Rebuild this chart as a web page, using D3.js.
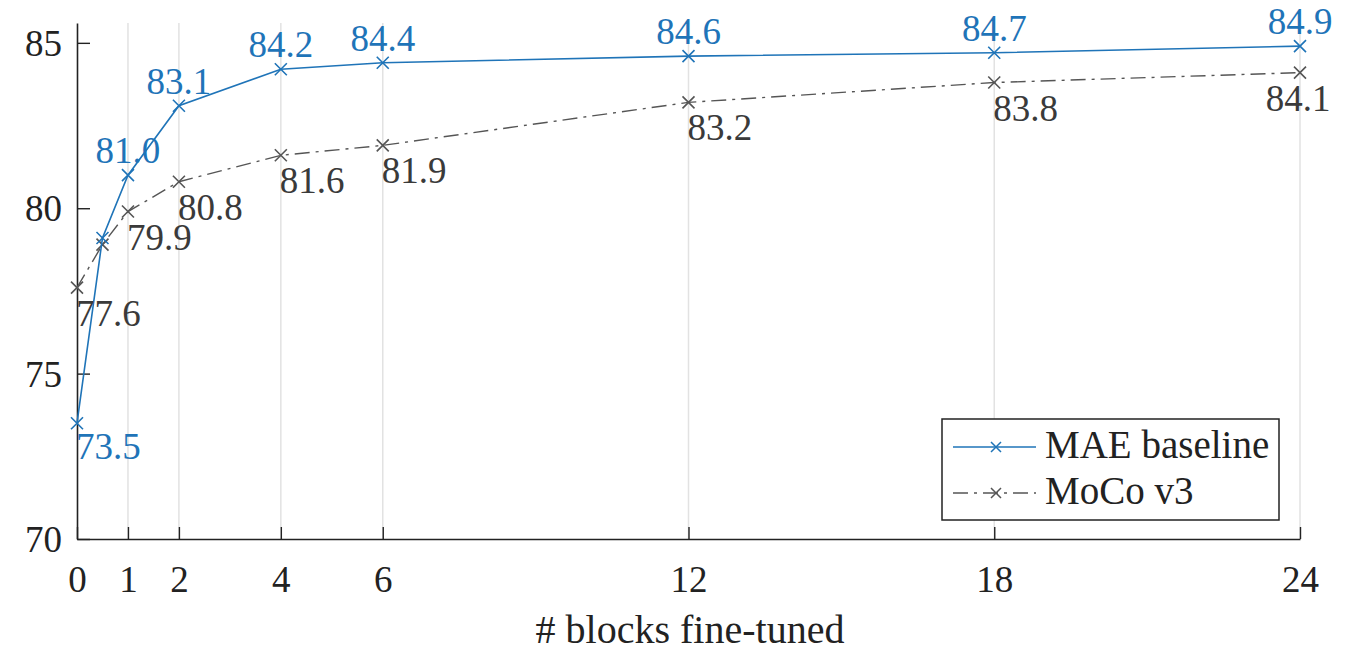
<!DOCTYPE html>
<html>
<head>
<meta charset="utf-8">
<script src="https://cdn.jsdelivr.net/npm/d3@7"></script>
<style>
body { margin: 0; background: #fff; }
svg text { font-family: "Liberation Serif", "Times New Roman", Times, serif !important; }
</style>
</head>
<body>
<script>
// data
var blocks = [0, 0.5, 1, 2, 4, 6, 12, 18, 24];
var maeVals = [73.5, 79.1, 81.0, 83.1, 84.2, 84.4, 84.6, 84.7, 84.9];
var mocoVals = [77.6, 78.9, 79.9, 80.8, 81.6, 81.9, 83.2, 83.8, 84.1];
var xTicks = [0, 1, 2, 4, 6, 12, 18, 24];
var yTicks = [70, 75, 80, 85];
var seriesNames = ['MAE baseline', 'MoCo v3'];

var blue = '#1f74b8';
var grey = '#555555';
var numSize = '37px';

var W = 1355, H = 653;
var svg = d3.select('body').append('svg').attr('width', W).attr('height', H);

var x = d3.scaleLinear().domain([0, 24]).range([77, 1300]);
var y = d3.scaleLinear().domain([70, 85.6]).range([539, 23]);

// vertical grid
svg.append('g').selectAll('line')
	.data(xTicks.filter(function(d){ return d > 0; }))
	.enter().append('line')
	.attr('x1', function(d){ return x(d); })
	.attr('x2', function(d){ return x(d); })
	.attr('y1', y.range()[0])
	.attr('y2', y.range()[1])
	.style('stroke', '#e2e2e2')
	.style('stroke-width', 1.5);

// axes
var xAxis = svg.append('g').attr('transform', 'translate(0,' + y(70) + ')')
	.call(d3.axisBottom(x).tickValues(xTicks).tickSizeInner(-12).tickSizeOuter(0).tickPadding(27));
var yAxis = svg.append('g').attr('transform', 'translate(' + x(0) + ',0)')
	.call(d3.axisLeft(y).tickValues(yTicks).tickSizeInner(-13).tickSizeOuter(0).tickPadding(15));

[xAxis, yAxis].forEach(function(a){
	a.attr('font-family', null);
	a.select('.domain').style('stroke', '#222').style('stroke-width', 1.6);
	a.selectAll('.tick line').style('stroke', '#222').style('stroke-width', 1.4);
	a.selectAll('.tick text').style('font-size', numSize).style('fill', '#222');
});
yAxis.selectAll('.tick text').attr('dy', '0.34em');
xAxis.selectAll('.tick text').attr('dy', '0.71em');

svg.append('text')
	.attr('x', 690).attr('y', 643)
	.attr('text-anchor', 'middle')
	.style('font-size', '40px').style('fill', '#222')
	.text('# blocks fine-tuned');

var line = d3.line()
	.x(function(d){ return x(d[0]); })
	.y(function(d){ return y(d[1]); });

var mae = d3.zip(blocks, maeVals);
var moco = d3.zip(blocks, mocoVals);

function cross(g, pts, color, s){
	g.selectAll('path.mk').data(pts).enter().append('path')
		.attr('class', 'mk')
		.attr('d', function(d){
			var cx = x(d[0]), cy = y(d[1]);
			return 'M' + (cx - s) + ',' + (cy - s) + 'L' + (cx + s) + ',' + (cy + s) +
				'M' + (cx - s) + ',' + (cy + s) + 'L' + (cx + s) + ',' + (cy - s);
		})
		.style('stroke', color).style('stroke-width', 1.6).style('fill', 'none');
}

var gMoco = svg.append('g');
gMoco.append('path').datum(moco).attr('d', line)
	.style('fill', 'none').style('stroke', grey).style('stroke-width', 1.4)
	.style('stroke-dasharray', '15,6,3,6');
cross(gMoco, moco, grey, 6);

var gMae = svg.append('g');
gMae.append('path').datum(mae).attr('d', line)
	.style('fill', 'none').style('stroke', blue).style('stroke-width', 1.6);
cross(gMae, mae, blue, 6);

// value labels
svg.append('g').selectAll('text')
	.data(mae.filter(function(d){ return d[0] !== 0.5; }))
	.enter().append('text')
	.attr('x', function(d){ return d[0] === 0 ? x(d[0]) - 1 : x(d[0]); })
	.attr('y', function(d){ return d[0] === 0 ? y(d[1]) + 36 : y(d[1]) - 12; })
	.attr('text-anchor', function(d){ return d[0] === 0 ? 'start' : 'middle'; })
	.style('font-size', numSize).style('fill', blue)
	.text(function(d){ return d[1].toFixed(1); });

svg.append('g').selectAll('text')
	.data(moco.filter(function(d){ return d[0] !== 0.5; }))
	.enter().append('text')
	.attr('x', function(d){ return d[0] === 24 ? x(d[0]) - 2 : x(d[0]) - 1; })
	.attr('y', function(d){ return y(d[1]) + 38; })
	.attr('text-anchor', function(d){ return d[0] === 24 ? 'middle' : 'start'; })
	.style('font-size', numSize).style('fill', '#3a3a3a')
	.text(function(d){ return d[1].toFixed(1); });

// legend
var lg = svg.append('g');
lg.append('rect').attr('x', 942).attr('y', 419).attr('width', 337).attr('height', 101)
	.style('fill', '#fff').style('stroke', '#222').style('stroke-width', 1.5);
var legItems = [
	{name: seriesNames[0], color: blue, dash: null, yy: 447},
	{name: seriesNames[1], color: grey, dash: '15,6,3,6', yy: 493}
];
legItems.forEach(function(it){
	lg.append('line').attr('x1', 953).attr('x2', 1036).attr('y1', it.yy).attr('y2', it.yy)
		.style('stroke', it.color).style('stroke-width', 1.5)
		.style('stroke-dasharray', it.dash);
	lg.append('path')
		.attr('d', 'M991,' + (it.yy - 5) + 'L1001,' + (it.yy + 5) + 'M991,' + (it.yy + 5) + 'L1001,' + (it.yy - 5))
		.style('stroke', it.color).style('stroke-width', 1.5);
	lg.append('text').attr('x', 1045).attr('y', it.yy + 11)
		.style('font-size', '39px').style('fill', '#222')
		.text(it.name);
});
</script>
</body>
</html>
